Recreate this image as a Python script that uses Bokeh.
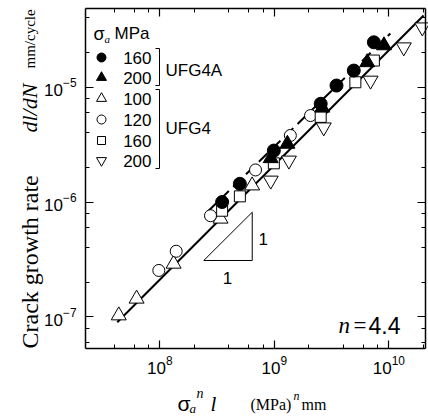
import math
from bokeh.plotting import figure
from bokeh.models import Range1d, LogAxis, Label, CustomJSTickFormatter
from bokeh.embed import file_html
from bokeh.resources import INLINE

# ---------------- data ----------------
ufg4a_160_x = [3.5e8, 5.0e8, 9.9e8, 2.54e9, 3.49e9, 4.94e9, 7.4e9]
ufg4a_160_y = [1.0e-6, 1.44e-6, 2.8e-6, 7.15e-6, 1.03e-5, 1.39e-5, 2.45e-5]

ufg4a_200_x = [9.3e8, 1.3e9, 2.62e9, 6.47e9, 9.06e9]
ufg4a_200_y = [2.4e-6, 3.2e-6, 6.6e-6, 1.64e-5, 2.3e-5]

ufg4_100_x = [4.38e7, 6.27e7, 1.32e8, 3.39e8, 6.4e8]
ufg4_100_y = [1.03e-7, 1.44e-7, 2.9e-7, 7.15e-7, 1.39e-6]

ufg4_120_x = [9.8e7, 1.39e8, 2.77e8, 6.85e8, 1.38e9, 2.07e9]
ufg4_120_y = [2.54e-7, 3.73e-7, 7.6e-7, 1.9e-6, 3.79e-6, 5.65e-6]

ufg4_160_x = [3.5e8, 5.0e8, 9.9e8, 2.54e9, 5.1e9, 7.4e9]
ufg4_160_y = [8.4e-7, 1.12e-6, 2.17e-6, 5.5e-6, 1.1e-5, 1.7e-5]

ufg4_200_x = [9.3e8, 1.34e9, 2.7e9, 6.92e9, 1.35e10, 1.96e10]
ufg4_200_y = [1.54e-6, 2.3e-6, 4.47e-6, 1.14e-5, 2.22e-5, 3.31e-5]

# fitted lines (end points)
ufg4_fit_x = [4.25e7, 2.01e10]
ufg4_fit_y = [9.0e-8, 4.19e-5]
ufg4a_fit_x = [2.6e8, 1.03e10]
ufg4a_fit_y = [8.2e-7, 2.92e-5]

# slope triangle (data coords)
tri_x = [2.42e8, 6.41e8, 6.41e8, 2.42e8]
tri_y = [3.1e-7, 3.1e-7, 8.15e-7, 3.1e-7]

legend_labels = ["160", "200", "100", "120", "160", "200"]

# ---------------- layout helpers ----------------
W, H = 428, 418
# plot box: x 2.24e7 .. 2.09e10, y 5.32e-8 .. 4.82e-5
LX0, LX1 = 7.351, 10.320
LY0, LY1 = -7.274, -4.317
L, R, T, B = 85, 425, 8, 348   # plot box in page pixels


def X(px):
    return 10 ** (LX0 + (px - L) / (R - L) * (LX1 - LX0))


def Y(py):
    return 10 ** (LY1 - (py - T) / (B - T) * (LY1 - LY0))


p = figure(width=W, height=H, x_axis_type="log", y_axis_type="log",
           x_range=Range1d(X(0), X(W)), y_range=Range1d(Y(H), Y(0)),
           x_axis_location=None, y_axis_location=None,
           output_backend="svg", toolbar_location=None,
           min_border=0)
p.grid.visible = False
p.outline_line_color = None
p.background_fill_color = "white"


def lab(px, py, text, size, font="Liberation Sans", style="normal",
        align="left", baseline="alphabetic", angle=0.0):
    p.add_layout(Label(x=px, y=py, x_units="canvas", y_units="canvas",
                       text=text, text_font=font, text_font_style=style,
                       text_font_size=size, text_color="black",
                       text_align=align, text_baseline=baseline, angle=angle))


xb = (X(L), X(R))
yb = (Y(B), Y(T))
bottom = LogAxis(fixed_location=Y(B), bounds=xb)
top = LogAxis(fixed_location=Y(T), bounds=xb)
left = LogAxis(fixed_location=X(L), bounds=yb)
right = LogAxis(fixed_location=X(R), bounds=yb)
p.add_layout(bottom, "below")
p.add_layout(top, "above")
p.add_layout(left, "left")
p.add_layout(right, "right")

for ax in [bottom, left, top, right]:
    ax.major_tick_in = 8
    ax.major_tick_out = 0
    ax.minor_tick_in = 4
    ax.minor_tick_out = 0
    ax.axis_line_color = "black"
    ax.axis_line_width = 1.5
    ax.major_tick_line_color = "black"
    ax.minor_tick_line_color = "black"
    ax.major_tick_line_width = 1.2
    ax.minor_tick_line_width = 1.0
    ax.major_label_text_font = "Liberation Sans"
    ax.major_label_text_font_size = "17px"
    ax.major_label_text_color = "black"
for ax in [top, right]:
    ax.formatter = CustomJSTickFormatter(code="return ' '")
    ax.major_label_text_font_size = "2px"
    ax.major_label_standoff = 0
bottom.major_label_standoff = 7
left.major_label_standoff = 9

# ---------------- lines ----------------
p.line(ufg4_fit_x, ufg4_fit_y, line_color="black", line_width=2)
p.line(ufg4a_fit_x, ufg4a_fit_y, line_color="black", line_width=2, line_dash="12 6")
p.line(tri_x, tri_y, line_color="black", line_width=1)

# ---------------- markers ----------------
p.scatter(ufg4_100_x, ufg4_100_y, marker="triangle", size=15,
          fill_color="white", line_color="black", line_width=1)
p.scatter(ufg4_120_x, ufg4_120_y, marker="circle", size=12,
          fill_color="white", line_color="black", line_width=1)
p.scatter(ufg4_160_x, ufg4_160_y, marker="square", size=11,
          fill_color="white", line_color="black", line_width=1)
p.scatter(ufg4_200_x, ufg4_200_y, marker="inverted_triangle", size=15,
          fill_color="white", line_color="black", line_width=1)
p.scatter(ufg4a_200_x, ufg4a_200_y, marker="triangle", size=15,
          fill_color="black", line_color="black")
p.scatter(ufg4a_160_x, ufg4a_160_y, marker="circle", size=13,
          fill_color="black", line_color="black")

# ---------------- legend ----------------
rows_y = [57, 77, 98, 119, 140, 160]
mk = [("circle", "black", 9), ("triangle", "black", 10), ("triangle", "white", 10),
      ("circle", "white", 9), ("square", "white", 8), ("inverted_triangle", "white", 10)]
for (m, fc, s), ry, txt in zip(mk, rows_y, legend_labels):
    p.scatter([X(101)], [Y(ry)], marker=m, size=s, fill_color=fc,
              line_color="black", line_width=1)
    lab(151, ry, txt, "17px", align="right", baseline="middle")

lab(93, 33, "σ", "18px")
lab(104, 38, "a", "11px", font="Liberation Serif", style="italic")
lab(114, 33, "MPa", "17px")

for y0, y1, ly, txt in [(48, 85, 70, "UFG4A"), (89, 168, 128, "UFG4")]:
    p.line([X(155), X(159), X(159), X(155)], [Y(y0), Y(y0), Y(y1), Y(y1)],
           line_color="black", line_width=1)
    lab(165, ly, txt, "17px", baseline="middle")

# slope triangle labels
lab(258, 238, "1", "17px", baseline="middle")
lab(227, 277, "1", "17px", align="center", baseline="middle")

# n = 4.4
lab(338, 325, "n", "23px", font="Liberation Serif", style="italic")
lab(353, 325, "=", "23px", font="Liberation Serif")
lab(368, 325, "4.4", "23px")

# x axis label
lab(177, 403, "σ", "21px")
lab(189, 408, "a", "13px", font="Liberation Serif", style="italic")
lab(196, 393, "n", "14px", font="Liberation Serif", style="italic")
lab(210, 403, "l", "21px", font="Liberation Serif", style="italic")
lab(250, 404, "(MPa)", "16px", font="Liberation Serif")
lab(293, 395, "n", "12px", font="Liberation Serif", style="italic")
lab(301, 404, "mm", "16px", font="Liberation Serif")

# y axis label (rotated)
ang = math.pi / 2
lab(29, 348, "Crack growth rate", "24px", font="Liberation Serif", angle=ang)
lab(29, 132, "dl/dN", "22px", font="Liberation Serif", style="italic", angle=ang)
lab(29, 68, "mm/cycle", "15px", font="Liberation Serif", angle=ang)

open("out.html", "w").write(file_html(p, INLINE))
